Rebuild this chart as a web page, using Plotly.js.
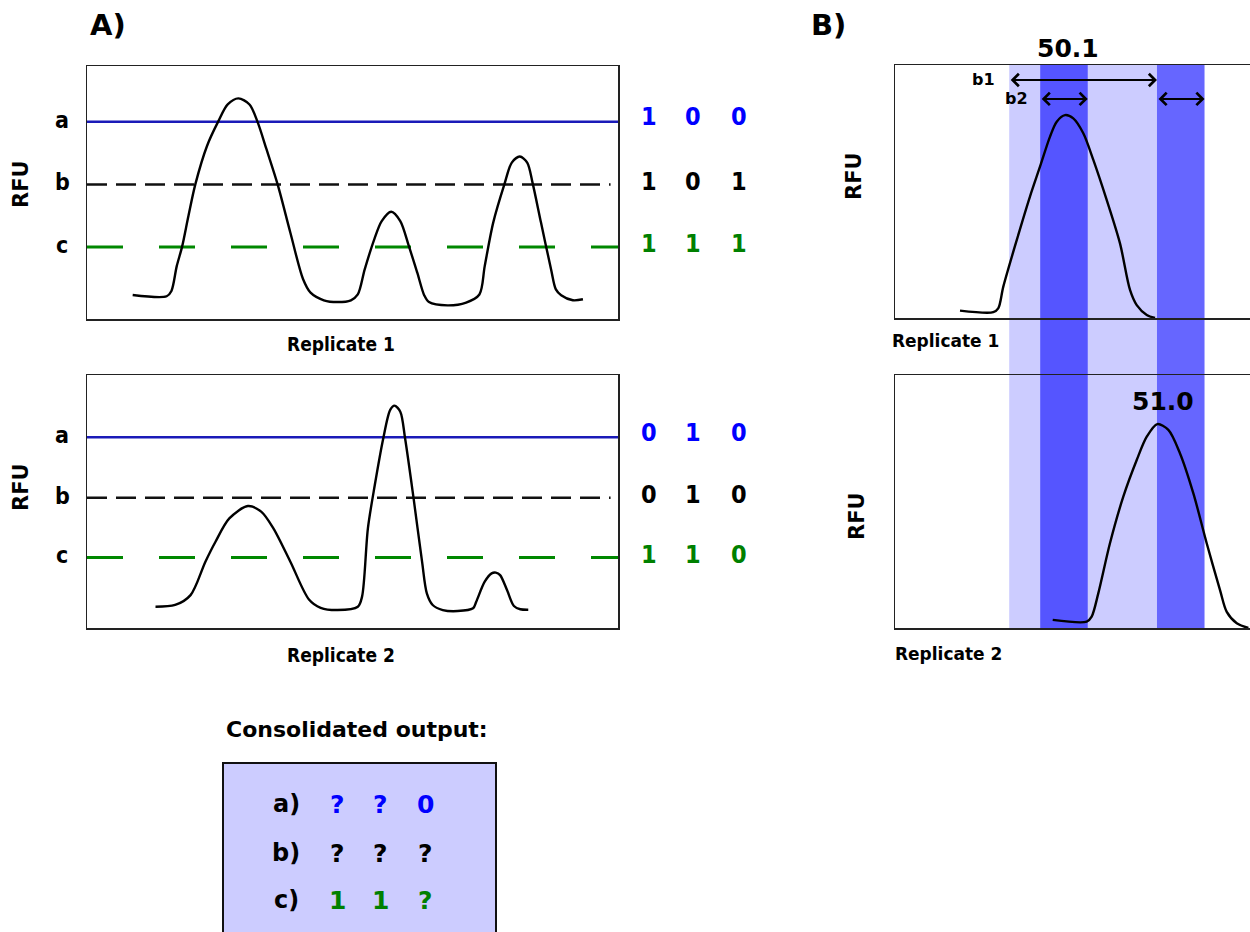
<!DOCTYPE html>
<html>
<head>
<meta charset="utf-8">
<script src="https://cdn.plot.ly/plotly-3.0.1.min.js"></script>
<style>html,body{margin:0;padding:0;background:#fff;}#chart{width:1250px;height:932px;}</style>
</head>
<body>
<div id="chart"></div>
<script>
// ---------------- DATA ----------------
const thresholdNames = ['a', 'b', 'c'];
const thresholdsRep1 = [78.0, 53.2, 28.5];
const thresholdsRep2 = [75.4, 51.5, 27.9];
const callsRep1 = [['1', '0', '0'], ['1', '0', '1'], ['1', '1', '1']];
const callsRep2 = [['0', '1', '0'], ['0', '1', '0'], ['1', '1', '0']];
const consolidatedRows = ['a)', 'b)', 'c)'];
const consolidatedCalls = [['?', '?', '0'], ['?', '?', '?'], ['1', '1', '?']];
const replicateNames = ['Replicate 1', 'Replicate 2'];

const rep1X = [8.6, 15.0, 15.9, 16.9, 17.9, 19.1, 20.4, 22.6, 24.7, 26.5, 28.5, 30.6, 32.1, 33.8, 35.9, 38.3, 40.7, 42.1, 44.6, 47.2, 49.7, 51.0, 52.3, 54.1, 55.5, 57.3, 59.0, 60.6, 62.2, 63.5, 64.4, 67.9, 71.4, 73.9, 74.9, 76.5, 78.6, 80.0, 81.5, 82.9, 83.9, 85.5, 87.4, 88.3, 89.3, 91.5, 93.4];
const rep1Y = [9.5, 9.0, 11.1, 20.9, 28.5, 40.7, 53.2, 68.4, 78.0, 84.8, 87.2, 84.8, 78.0, 67.1, 53.2, 34.1, 15.7, 10.4, 7.4, 6.7, 7.4, 9.7, 19.6, 31.5, 38.7, 42.4, 38.7, 28.9, 18.3, 9.4, 6.7, 5.4, 6.5, 9.7, 20.9, 38.1, 53.2, 61.8, 64.2, 61.8, 53.9, 38.1, 19.6, 11.7, 9.4, 7.4, 7.8];
const rep2X = [12.9, 16.6, 19.5, 22.3, 24.2, 26.8, 30.3, 32.8, 35.1, 38.3, 41.8, 44.0, 47.2, 51.0, 51.8, 52.9, 54.2, 55.8, 57.1, 57.9, 59.0, 59.9, 61.5, 63.1, 64.0, 65.1, 67.0, 69.8, 72.7, 73.3, 74.9, 76.2, 77.0, 77.8, 79.1, 80.4, 81.6, 83.1];
const rep2Y = [8.4, 9.1, 13.0, 26.2, 34.1, 43.3, 48.2, 46.0, 39.4, 26.2, 11.3, 8.0, 7.1, 8.4, 12.4, 39.4, 56.5, 75.0, 86.2, 87.9, 85.5, 75.0, 51.3, 26.2, 13.7, 9.1, 7.1, 6.7, 7.8, 10.4, 18.3, 21.6, 21.9, 20.9, 15.0, 8.7, 7.4, 7.2];

const sizeRep1X = [49.084, 49.406, 49.454, 49.503, 49.633, 49.761, 49.858, 49.955, 50.020, 50.100, 50.180, 50.277, 50.374, 50.504, 50.632, 50.729, 50.794, 50.891, 50.971];
const sizeRep1Y = [2.9, 2.3, 3.8, 12.4, 30.8, 48.0, 59.8, 71.7, 77.6, 80.2, 78.9, 73.0, 62.5, 46.6, 29.5, 11.1, 5.1, 1.2, 0.0];
const sizeRep2X = [49.981, 50.310, 50.358, 50.422, 50.535, 50.664, 50.794, 50.891, 50.993, 51.100, 51.213, 51.342, 51.471, 51.600, 51.665, 51.762, 51.874];
const sizeRep2Y = [3.2, 2.5, 4.5, 13.7, 33.5, 51.9, 66.4, 75.6, 80.6, 78.3, 69.0, 53.2, 33.5, 15.0, 6.4, 1.9, 0.0];

const peakCalls = ['50.1', '51.0'];
const peakSizes = [50.1, 51.0];
const binB1 = [49.56, 50.99];
const binsB2 = [[49.86, 50.32], [50.99, 51.45]];

// ---------------- LAYOUT HELPERS ----------------
const W = 1250, H = 932;
const X = p => p / W;
const Y = p => 1 - p / H;
const BOLD = 'DejaVu Sans, Verdana, sans-serif';
const COND = 'DejaVu Sans Condensed, DejaVu Sans, sans-serif';
const rowColors = ['#0000ff', '#000000', '#008000'];
const lineStyles = [
  {color: '#1a1ab8', width: 2.5, dash: 'solid'},
  {color: '#111111', width: 2.5, dash: '20px,9px'},
  {color: '#008800', width: 3, dash: '36px,36px'}
];
const lineEnds = [100, 98.6, 100];
const curveLine = {color: '#000', width: 2.4, shape: 'spline', smoothing: 0.85};

const traces = [];
const annotations = [];
const shapes = [];

function txt(xref, yref, x, y, text, family, size, color, extra) {
  return Object.assign({xref: xref, yref: yref, x: x, y: y, text: text, showarrow: false,
    xanchor: 'center', yanchor: 'middle', font: {family: family, size: size, color: color || '#000', weight: 'bold'}}, extra || {});
}

// Panel A replicates
const repA = [
  {xa: 'x', ya: 'y', th: thresholdsRep1, calls: callsRep1, cx: rep1X, cy: rep1Y, rfuY: 184, repY: 344},
  {xa: 'x2', ya: 'y2', th: thresholdsRep2, calls: callsRep2, cx: rep2X, cy: rep2Y, rfuY: 487, repY: 655}
];
const callColsPx = [649, 693, 739];
repA.forEach((r, k) => {
  r.th.forEach((t, i) => {
    traces.push({type: 'scatter', mode: 'lines', x: [0, lineEnds[i]], y: [t, t], xaxis: r.xa, yaxis: r.ya,
      line: lineStyles[i], hoverinfo: 'skip'});
    annotations.push(txt('paper', r.ya, X(62), t, thresholdNames[i], COND, 23, '#000', {yshift: 2}));
    r.calls[i].forEach((c, j) => {
      annotations.push(txt('paper', r.ya, X(callColsPx[j]), t, c, COND, 25, rowColors[i], {yshift: i === 0 ? 5 : 3}));
    });
  });
  traces.push({type: 'scatter', mode: 'lines', x: r.cx, y: r.cy, xaxis: r.xa, yaxis: r.ya, line: curveLine, hoverinfo: 'skip'});
  annotations.push(txt('paper', 'paper', X(21), Y(r.rfuY), 'RFU', BOLD, 21, '#000', {textangle: -90}));
  annotations.push(txt('paper', 'paper', X(341), Y(r.repY), replicateNames[k], COND, 19, '#000'));
});

// Panel B
traces.push({type: 'scatter', mode: 'lines', x: sizeRep1X, y: sizeRep1Y, xaxis: 'x3', yaxis: 'y3', line: curveLine, hoverinfo: 'skip'});
traces.push({type: 'scatter', mode: 'lines', x: sizeRep2X, y: sizeRep2Y, xaxis: 'x4', yaxis: 'y4', line: curveLine, hoverinfo: 'skip'});

const bandY0 = Y(628), bandY1 = Y(65);
shapes.push({type: 'rect', layer: 'below', xref: 'x3', yref: 'paper', x0: binB1[0], x1: binB1[1], y0: bandY0, y1: bandY1,
  fillcolor: '#ccccff', line: {width: 0}});
const darkColors = ['#5555ff', '#6666ff'];
binsB2.forEach((b, i) => {
  shapes.push({type: 'rect', layer: 'below', xref: 'x3', yref: 'paper', x0: b[0], x1: b[1], y0: bandY0, y1: bandY1,
    fillcolor: darkColors[i], line: {width: 0}});
});

// Consolidated box
shapes.push({type: 'rect', layer: 'below', xref: 'paper', yref: 'paper', x0: X(223), x1: X(496), y0: -0.05, y1: Y(763),
  fillcolor: '#ccccff', line: {color: '#111', width: 2}});

// arrows
const arrowBase = {showarrow: true, arrowside: 'end+start', arrowhead: 4, startarrowhead: 4, arrowsize: 1.2,
  startarrowsize: 1.2, arrowwidth: 2, arrowcolor: '#000', text: '', standoff: 0, startstandoff: 0};
const arrowY1 = 94.1, arrowY2 = 86.6;
annotations.push(Object.assign({}, arrowBase, {xref: 'x3', yref: 'y3', axref: 'x3', ayref: 'y3',
  x: binB1[1], y: arrowY1, ax: binB1[0], ay: arrowY1}));
binsB2.forEach(b => {
  annotations.push(Object.assign({}, arrowBase, {xref: 'x3', yref: 'y3', axref: 'x3', ayref: 'y3',
    x: b[1], y: arrowY2, ax: b[0], ay: arrowY2}));
});
annotations.push(txt('x3', 'y3', binB1[0], arrowY1, 'b1', BOLD, 16, '#000', {xanchor: 'right', xshift: -12}));
annotations.push(txt('x3', 'y3', binsB2[0][0], arrowY2, 'b2', BOLD, 16, '#000', {xanchor: 'right', xshift: -10}));

// peak call labels
annotations.push(txt('x3', 'paper', peakSizes[0], Y(48), peakCalls[0], BOLD, 25, '#000', {xshift: 3}));
annotations.push(txt('x4', 'paper', peakSizes[1], Y(402), peakCalls[1], BOLD, 25, '#000', {xshift: 5}));

// B labels
[[854, 176], [857, 516]].forEach(p => {
  annotations.push(txt('paper', 'paper', X(p[0]), Y(p[1]), 'RFU', BOLD, 21, '#000', {textangle: -90}));
});
[[945, 341], [948, 654]].forEach((p, k) => {
  annotations.push(txt('paper', 'paper', X(p[0]), Y(p[1]), replicateNames[k], BOLD, 17, '#000'));
});

// panel letters
annotations.push(txt('paper', 'paper', X(88), Y(25), 'A)', BOLD, 29, '#000', {xanchor: 'left'}));
annotations.push(txt('paper', 'paper', X(809), Y(25), 'B)', BOLD, 29, '#000', {xanchor: 'left'}));

// consolidated output
annotations.push(txt('paper', 'paper', X(357), Y(729), 'Consolidated output:', BOLD, 22, '#000'));
const consRowY = [804, 853, 900];
const consColX = [337, 380, 425];
consolidatedRows.forEach((lab, i) => {
  annotations.push(txt('paper', 'paper', X(286), Y(consRowY[i]), lab, BOLD, 24, '#000'));
  consolidatedCalls[i].forEach((c, j) => {
    annotations.push(txt('paper', 'paper', X(consColX[j]), Y(consRowY[i]), c, BOLD, 25, rowColors[i]));
  });
});

// axes
const boxLine = {showline: true, linecolor: '#222', linewidth: 1.5, showgrid: false, zeroline: false,
  showticklabels: false, ticks: '', fixedrange: true};
const sizeRange = [48.455, 51.890];
const layout = {
  width: W, height: H, margin: {l: 0, r: 0, t: 0, b: 0}, showlegend: false,
  paper_bgcolor: '#ffffff', plot_bgcolor: 'rgba(0,0,0,0)',
  xaxis: Object.assign({}, boxLine, {domain: [X(87), X(618)], range: [0, 100], mirror: true, anchor: 'y'}),
  yaxis: Object.assign({}, boxLine, {domain: [Y(319), Y(66)], range: [0, 100], mirror: true, anchor: 'x'}),
  xaxis2: Object.assign({}, boxLine, {domain: [X(87), X(618)], range: [0, 100], mirror: true, anchor: 'y2'}),
  yaxis2: Object.assign({}, boxLine, {domain: [Y(628), Y(375)], range: [0, 100], mirror: true, anchor: 'x2'}),
  xaxis3: Object.assign({}, boxLine, {domain: [X(895), 1], range: sizeRange, mirror: true, anchor: 'y3'}),
  yaxis3: Object.assign({}, boxLine, {domain: [Y(318), Y(65)], range: [0, 100], mirror: false, anchor: 'x3'}),
  xaxis4: Object.assign({}, boxLine, {domain: [X(895), 1], range: sizeRange, mirror: true, anchor: 'y4'}),
  yaxis4: Object.assign({}, boxLine, {domain: [Y(628), Y(375)], range: [0, 100], mirror: false, anchor: 'x4'}),
  shapes: shapes,
  annotations: annotations
};
Plotly.newPlot('chart', traces, layout, {displayModeBar: false, staticPlot: true});
</script>
</body>
</html>
